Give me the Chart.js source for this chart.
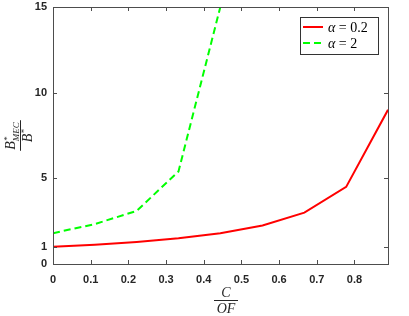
<!DOCTYPE html>
<html><head><meta charset="utf-8">
<script src="https://cdn.jsdelivr.net/npm/chart.js@4"></script>
<style>html,body{margin:0;padding:0;background:#fff;overflow:hidden}</style>
</head><body>
<canvas id="c" width="409" height="316" style="width:409px;height:316px;display:block"></canvas>
<script>
// ---- data ----
const xRatio = [0, 0.111, 0.222, 0.333, 0.444, 0.556, 0.667, 0.778, 0.889];
const alpha02 = [1.0, 1.125, 1.286, 1.5, 1.8, 2.25, 3.0, 4.5, 9.0];
const xRatioB = [0, 0.111, 0.222, 0.333, 0.444];
const alpha2 = [1.8, 2.33, 3.1, 5.4, 15.0];
const yTickValues = [0, 1, 5, 10, 15];
const xTickValues = [0, 0.1, 0.2, 0.3, 0.4, 0.5, 0.6, 0.7, 0.8];
const seriesNames = ['α = 0.2', 'α = 2'];

const AXIS_COLOR = '#4d4d4d';
const TICK_FONT = {family: 'Liberation Sans, Arial, sans-serif', size: 11, weight: 'bold'};

const boxPlugin = {
  id: 'boxPlugin',
  afterDraw(chart) {
    const ctx = chart.ctx, a = chart.chartArea;
    const xs = chart.scales.x, ys = chart.scales.y;
    ctx.save();
    ctx.strokeStyle = AXIS_COLOR; ctx.lineWidth = 1;
    ctx.strokeRect(Math.round(a.left) + 0.5, Math.round(a.top) + 0.5,
                   Math.round(a.right - a.left), Math.round(a.bottom - a.top));
    ctx.beginPath();
    const L = 4;
    xTickValues.forEach(v => {
      const px = Math.round(xs.getPixelForValue(v)) + 0.5;
      ctx.moveTo(px, a.bottom); ctx.lineTo(px, a.bottom - L);
      ctx.moveTo(px, a.top); ctx.lineTo(px, a.top + L);
    });
    yTickValues.forEach(v => {
      const py = Math.round(ys.getPixelForValue(v)) + 0.5;
      ctx.moveTo(a.left, py); ctx.lineTo(a.left + L, py);
      ctx.moveTo(a.right, py); ctx.lineTo(a.right - L, py);
    });
    ctx.stroke();

    // legend
    const lx = 300, ly = 17, lw = 78, lh = 37;
    ctx.fillStyle = '#fff';
    ctx.fillRect(lx, ly, lw, lh);
    ctx.strokeStyle = '#333';
    ctx.strokeRect(lx + 0.5, ly + 0.5, lw, lh);
    chart.data.datasets.forEach((ds, i) => {
      const yy = ly + 10 + i * 16;
      ctx.strokeStyle = ds.borderColor; ctx.lineWidth = 2;
      ctx.setLineDash(ds.borderDash || []);
      ctx.beginPath(); ctx.moveTo(lx + 3, yy); ctx.lineTo(lx + 23, yy); ctx.stroke();
      ctx.setLineDash([]);
      ctx.fillStyle = '#000';
      ctx.textBaseline = 'middle'; ctx.textAlign = 'left';
      const parts = ds.label.split(' ');
      ctx.font = 'italic 14px "Liberation Serif", serif';
      ctx.fillText(parts[0], lx + 28, yy + 1);
      const w = ctx.measureText(parts[0]).width;
      ctx.font = '14px "Liberation Serif", serif';
      ctx.fillText(' ' + parts.slice(1).join(' '), lx + 28 + w, yy + 1);
    });

    // x axis title: C / OF
    ctx.fillStyle = '#262626';
    ctx.textAlign = 'center'; ctx.textBaseline = 'alphabetic';
    const cx = 226;
    ctx.font = 'italic 14px "Liberation Serif", serif';
    ctx.fillText('C', cx, 297);
    ctx.fillText('OF', cx, 313);
    ctx.fillRect(cx - 12, 300, 24, 1);

    // y axis title: B*_MEC / B*  rotated
    ctx.save();
    ctx.translate(19, 135.5);
    ctx.rotate(-Math.PI / 2);
    ctx.textAlign = 'left';
    ctx.font = 'italic 14px "Liberation Serif", serif';
    const bw = ctx.measureText('B').width;
    ctx.font = 'italic 9px "Liberation Serif", serif';
    const subw = ctx.measureText('MEC').width;
    const numW = bw + subw + 1;
    let x0 = -numW / 2;
    ctx.font = 'italic 14px "Liberation Serif", serif';
    ctx.fillText('B', x0, -4);
    ctx.font = '9px "Liberation Serif", serif';
    ctx.fillText('*', x0 + bw + 0.5, -9);
    ctx.font = 'italic 9px "Liberation Serif", serif';
    ctx.fillText('MEC', x0 + bw, 0);
    ctx.fillRect(-numW / 2 - 1, 1, numW + 2, 1);
    ctx.font = 'italic 14px "Liberation Serif", serif';
    const dw = bw + 5;
    x0 = -dw / 2;
    ctx.fillText('B', x0, 13);
    ctx.font = '9px "Liberation Serif", serif';
    ctx.fillText('*', x0 + bw + 0.5, 8);
    ctx.restore();
    ctx.restore();
  }
};

new Chart(document.getElementById('c'), {
  type: 'line',
  data: {
    datasets: [
      { label: seriesNames[0], data: xRatio.map((x, i) => ({x, y: alpha02[i]})),
        borderColor: 'rgb(255,0,0)', borderWidth: 2, pointRadius: 0, tension: 0, fill: false },
      { label: seriesNames[1], data: xRatioB.map((x, i) => ({x, y: alpha2[i]})),
        borderColor: 'rgb(0,255,0)', borderWidth: 2, borderDash: [7, 4], pointRadius: 0, tension: 0, fill: false }
    ]
  },
  options: {
    responsive: false, animation: false, devicePixelRatio: 1,
    layout: { padding: { left: 0, right: 21, top: 7, bottom: 0 } },
    plugins: { legend: { display: false }, tooltip: { enabled: false } },
    scales: {
      x: {
        type: 'linear', min: 0, max: 0.889,
        afterBuildTicks: s => { s.ticks = xTickValues.map(v => ({value: v})); },
        afterFit: s => { s.height = 52; s.paddingLeft = 0; s.paddingRight = 0; },
        grid: { display: false, drawTicks: false },
        border: { display: false },
        ticks: { color: '#262626', font: TICK_FONT, padding: 9, maxRotation: 0,
                 callback: v => v === 0 ? '0' : v.toFixed(1) }
      },
      y: {
        type: 'linear', min: 0, max: 15,
        afterBuildTicks: s => { s.ticks = yTickValues.map(v => ({value: v})); },
        afterFit: s => { s.width = 53; s.paddingTop = 0; s.paddingBottom = 0; },
        grid: { display: false, drawTicks: false },
        border: { display: false },
        ticks: { color: '#262626', font: TICK_FONT, padding: 6, autoSkip: false }
      }
    }
  },
  plugins: [boxPlugin]
});
</script>
</body></html>
